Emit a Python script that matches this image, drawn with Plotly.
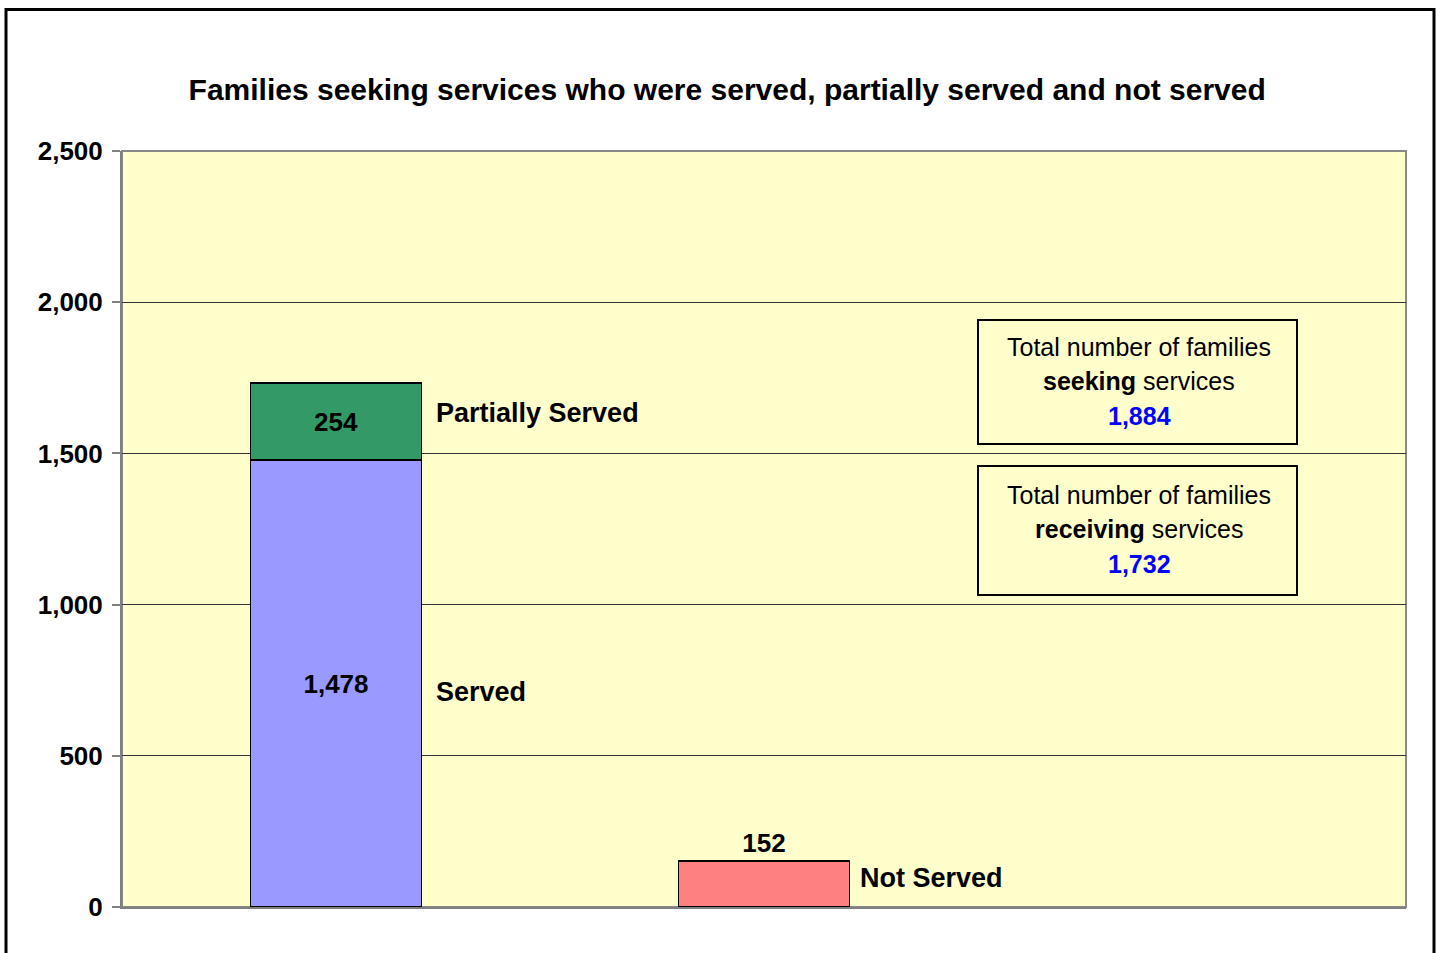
import plotly.graph_objects as go

categories = ["Served / Partially Served", "Not Served", ""]
served = [1478, 0]
partially = [254, 0]
not_served = [0, 152]
series_names = ["Served", "Partially Served", "Not Served"]
y_ticks = [0, 500, 1000, 1500, 2000, 2500]

total_seeking = served[0] + partially[0] + not_served[1]
total_receiving = served[0] + partially[0]

FONT = "Liberation Sans, Arial, sans-serif"
xpos = [0, 1]

fig = go.Figure()
fig.add_trace(go.Bar(
    x=[xpos[0]], y=[served[0]], width=0.4, name=series_names[0],
    marker=dict(color="#9999FF", line=dict(color="black", width=1.5)),
    text=[f"{served[0]:,}"], textposition="inside", insidetextanchor="middle",
    textfont=dict(family=FONT, size=26, color="black", weight="bold"),
))
fig.add_trace(go.Bar(
    x=[xpos[0]], y=[partially[0]], width=0.4, name=series_names[1],
    marker=dict(color="#339966", line=dict(color="black", width=1.5)),
    text=[f"{partially[0]:,}"], textposition="inside", insidetextanchor="middle",
    textfont=dict(family=FONT, size=26, color="black", weight="bold"),
))
fig.add_trace(go.Bar(
    x=[xpos[1]], y=[not_served[1]], width=0.4, name=series_names[2],
    marker=dict(color="#FF8080", line=dict(color="black", width=1.5)),
    text=[f"{not_served[1]:,}"], textposition="outside",
    textfont=dict(family=FONT, size=26, color="black", weight="bold"),
    cliponaxis=False,
))

annotations = []
lab_font = dict(family=FONT, size=27, color="black", weight="bold")
annotations.append(dict(x=xpos[0] + 0.2, y=served[0] + partially[0] / 2, xref="x", yref="y",
                        text=series_names[1], showarrow=False, xanchor="left", yanchor="middle",
                        xshift=12, yshift=9, font=lab_font))
annotations.append(dict(x=xpos[0] + 0.2, y=served[0] / 2, xref="x", yref="y",
                        text=series_names[0], showarrow=False, xanchor="left", yanchor="middle",
                        xshift=12, yshift=-8, font=lab_font))
annotations.append(dict(x=xpos[1] + 0.2, y=not_served[1] / 2, xref="x", yref="y",
                        text=series_names[2], showarrow=False, xanchor="left", yanchor="middle",
                        xshift=8, yshift=6, font=lab_font))

box_font = dict(family=FONT, size=25, color="black")
num_font = dict(family=FONT, size=25, color="#0000FF", weight="bold")
bx = (1139 - 122) / 1284
boxes = [
    ("seeking", total_seeking, [347, 381, 416]),
    ("receiving", total_receiving, [495, 529, 564]),
]
for word, val, ys in boxes:
    py = [(907 - v) / 756 for v in ys]
    annotations.append(dict(x=bx, y=py[0], xref="paper", yref="paper", text="Total number of families",
                            showarrow=False, xanchor="center", yanchor="middle", font=box_font))
    annotations.append(dict(x=bx, y=py[1], xref="paper", yref="paper", text=f"<b>{word}</b> services",
                            showarrow=False, xanchor="center", yanchor="middle", font=box_font))
    annotations.append(dict(x=bx, y=py[2], xref="paper", yref="paper", text=f"{val:,}",
                            showarrow=False, xanchor="center", yanchor="middle", font=num_font))

def px_x(p):
    return (p - 122) / 1284

def px_y(p):
    return (907 - p) / 756

shapes = [
    dict(type="rect", xref="paper", yref="paper", x0=px_x(978), x1=px_x(1297), y0=px_y(444), y1=px_y(320),
         line=dict(color="black", width=2), fillcolor="rgba(0,0,0,0)"),
    dict(type="rect", xref="paper", yref="paper", x0=px_x(978), x1=px_x(1297), y0=px_y(595), y1=px_y(466),
         line=dict(color="black", width=2), fillcolor="rgba(0,0,0,0)"),
    # plot area border (top/right)
    dict(type="rect", xref="paper", yref="paper", x0=0, x1=1, y0=0, y1=1,
         line=dict(color="#888888", width=2), fillcolor="rgba(0,0,0,0)", layer="below"),
    # outer chart border
    dict(type="rect", xref="paper", yref="paper", x0=px_x(6), x1=px_x(1434), y0=px_y(965), y1=px_y(9.5),
         line=dict(color="black", width=3), fillcolor="rgba(0,0,0,0)"),
]

fig.update_layout(
    width=1440, height=953,
    margin=dict(l=122, r=34, t=151, b=46),
    barmode="stack",
    paper_bgcolor="white",
    plot_bgcolor="#FFFFCC",
    showlegend=False,
    title=dict(text="<b>Families seeking services who were served, partially served and not served</b>",
               x=0.505, xref="container", xanchor="center", y=1 - 89 / 953, yref="container",
               yanchor="middle", font=dict(family=FONT, size=30, color="black")),
    xaxis=dict(range=[-0.5, 2.5], showticklabels=False, showgrid=False, zeroline=False,
               showline=True, linecolor="#808080", linewidth=2, ticks=""),
    yaxis=dict(range=[0, 2500], tickvals=y_ticks, tickformat=",", ticks="outside", ticklen=8,
               tickcolor="#808080", tickwidth=1.5, showline=True, linecolor="#808080", linewidth=2,
               showgrid=True, gridcolor="#333333", gridwidth=1, zeroline=False, ticklabelstandoff=4,
               tickfont=dict(family=FONT, size=26, color="black", weight="bold")),
    annotations=annotations,
    shapes=shapes,
)

fig.write_html("out.html")
